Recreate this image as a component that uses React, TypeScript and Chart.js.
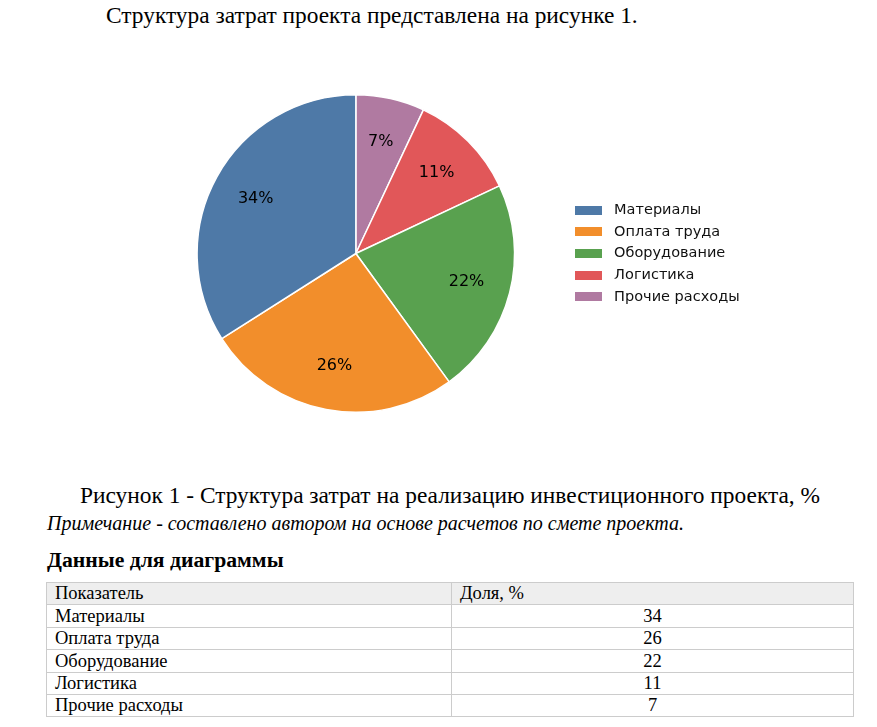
import React, { useEffect, useRef } from "react";
import { Chart, registerables } from "chart.js";

Chart.register(...registerables);

// chart data
const categories = ["Материалы", "Оплата труда", "Оборудование", "Логистика", "Прочие расходы"];
const shares = [34, 26, 22, 11, 7];
const sliceColors = ["#4e79a7", "#f28e2b", "#59a14f", "#e15759", "#b07aa1"];
const tableHeader = ["Показатель", "Доля, %"];

const serif = "'Liberation Serif', 'Times New Roman', serif";

// wide flat legend swatch, like matplotlib's legend patches
const makeSwatch = (color: string) => {
  const c = document.createElement("canvas");
  c.width = 27;
  c.height = 9;
  const g = c.getContext("2d");
  if (g) {
    g.fillStyle = color;
    g.fillRect(0, 0, 27, 9);
  }
  return c;
};

// percentage labels inside the slices (matplotlib autopct style)
const pctLabelPlugin = {
  id: "pctLabels",
  afterDatasetsDraw(chart: any) {
    const meta = chart.getDatasetMeta(0);
    const values = chart.data.datasets[0].data as number[];
    const ctx = chart.ctx;
    ctx.save();
    ctx.font = "16px 'DejaVu Sans'";
    ctx.fillStyle = "#000000";
    ctx.textAlign = "center";
    ctx.textBaseline = "middle";
    meta.data.forEach((arc: any, i: number) => {
      const { x, y, startAngle, endAngle, outerRadius } = arc.getProps(
        ["x", "y", "startAngle", "endAngle", "outerRadius"],
        true
      );
      const mid = (startAngle + endAngle) / 2;
      const r = outerRadius * 0.72;
      ctx.fillText(`${values[i]}%`, x + Math.cos(mid) * r, y + Math.sin(mid) * r);
    });
    ctx.restore();
  },
};

const CostPie: React.FC = () => {
  const chartRef = useRef<HTMLCanvasElement>(null);
  const chartInstance = useRef<Chart | null>(null);

  useEffect(() => {
    if (!chartRef.current) return;
    if (chartInstance.current) chartInstance.current.destroy();
    const ctx = chartRef.current.getContext("2d");
    if (!ctx) return;

    const baseLabels = (Chart as any).overrides.pie.plugins.legend.labels.generateLabels;

    // Chart.js goes clockwise, the reference counter-clockwise: feed reversed
    chartInstance.current = new Chart(ctx, {
      type: "pie",
      data: {
        labels: [...categories].reverse(),
        datasets: [
          {
            data: [...shares].reverse(),
            backgroundColor: [...sliceColors].reverse(),
            borderColor: "#ffffff",
            borderWidth: 1.5,
          },
        ],
      },
      options: {
        animation: false,
        responsive: true,
        maintainAspectRatio: false,
        layout: { padding: { right: 10 } },
        plugins: {
          legend: {
            position: "right",
            reverse: true,
            labels: {
              usePointStyle: true,
              pointStyleWidth: 37,
              boxHeight: 9,
              padding: 7.2,
              color: "#111111",
              font: { family: "'DejaVu Sans'", size: 14.5 },
              generateLabels: (chart: any) =>
                baseLabels(chart).map((item: any) => ({
                  ...item,
                  pointStyle: makeSwatch(item.fillStyle),
                })),
            },
          },
          tooltip: { enabled: false },
        },
      },
      plugins: [pctLabelPlugin],
    } as any);

    return () => {
      if (chartInstance.current) {
        chartInstance.current.destroy();
        chartInstance.current = null;
      }
    };
  }, []);

  return (
    <div style={{ position: "absolute", left: 148.7, top: 94, width: 610.6, height: 319 }}>
      <canvas ref={chartRef}></canvas>
    </div>
  );
};

const textLine = (
  text: string,
  left: number,
  top: number,
  size: number,
  extra: React.CSSProperties = {}
) => (
  <div
    style={{
      position: "absolute",
      left,
      top,
      fontFamily: serif,
      fontSize: size,
      lineHeight: 1,
      whiteSpace: "nowrap",
      color: "#000",
      ...extra,
    }}
  >
    {text}
  </div>
);

const cellStyle: React.CSSProperties = {
  border: "1px solid #cccccc",
  padding: "0 8px",
  height: 21.4,
  lineHeight: 1,
};

const App: React.FC = () => {
  return (
    <div
      style={{
        position: "absolute",
        left: 0,
        top: 0,
        width: 877,
        height: 727,
        background: "#ffffff",
        overflow: "hidden",
      }}
    >
      {textLine("Структура затрат проекта представлена на рисунке 1.", 106, 4.4, 23.4)}
      <CostPie />
      {textLine(
        "Рисунок 1 - Структура затрат на реализацию инвестиционного проекта, %",
        80,
        484.4,
        23.4
      )}
      {textLine(
        "Примечание - составлено автором на основе расчетов по смете проекта.",
        47,
        513.3,
        20,
        { fontStyle: "italic" }
      )}
      {textLine("Данные для диаграммы", 47, 549.8, 21.7, { fontWeight: "bold" })}
      <table
        style={{
          position: "absolute",
          left: 46,
          top: 582,
          width: 807,
          borderCollapse: "collapse",
          tableLayout: "fixed",
          fontFamily: serif,
          fontSize: 18.5,
        }}
      >
        <colgroup>
          <col style={{ width: 405 }} />
          <col style={{ width: 402 }} />
        </colgroup>
        <thead>
          <tr style={{ background: "#eeeeee" }}>
            {tableHeader.map((h) => (
              <th key={h} style={{ ...cellStyle, fontWeight: "normal", textAlign: "left" }}>
                {h}
              </th>
            ))}
          </tr>
        </thead>
        <tbody>
          {categories.map((c, i) => (
            <tr key={c}>
              <td style={cellStyle}>{c}</td>
              <td style={{ ...cellStyle, textAlign: "center" }}>{shares[i]}</td>
            </tr>
          ))}
        </tbody>
      </table>
    </div>
  );
};

export default App;
